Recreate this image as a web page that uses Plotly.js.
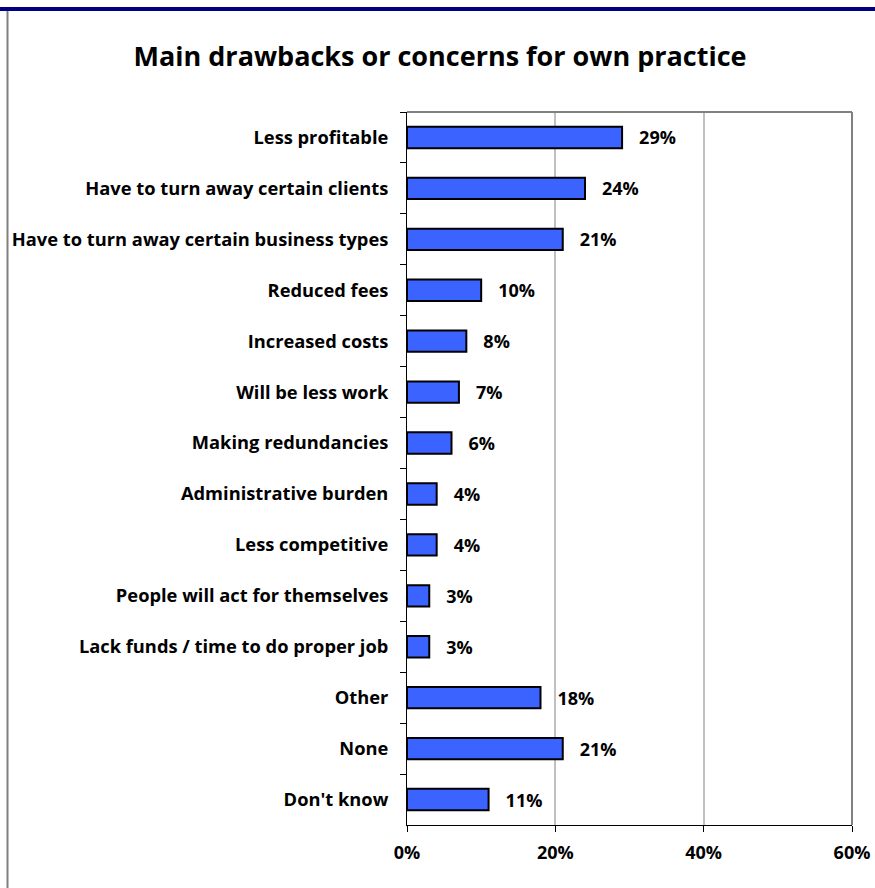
<!DOCTYPE html>
<html>
<head>
<meta charset="utf-8">
<script src="https://cdn.plot.ly/plotly-3.0.1.min.js"></script>
<style>html,body{margin:0;padding:0;background:#fff;}#chart{width:875px;height:888px;}</style>
</head>
<body>
<div id="chart"></div>
<script>
const categories = [
  "Less profitable",
  "Have to turn away certain clients",
  "Have to turn away certain business types",
  "Reduced fees",
  "Increased costs",
  "Will be less work",
  "Making redundancies",
  "Administrative burden",
  "Less competitive",
  "People will act for themselves",
  "Lack funds / time to do proper job",
  "Other",
  "None",
  "Don't know"
];
const values = [0.29, 0.24, 0.21, 0.10, 0.08, 0.07, 0.06, 0.04, 0.04, 0.03, 0.03, 0.18, 0.21, 0.11];
const xTickVals = [0, 0.2, 0.4, 0.6];
const xTickText = ["0%", "20%", "40%", "60%"];
const titleText = "Main drawbacks or concerns for own practice";

const FONT = "'Open Sans', sans-serif";
const W = 875, H = 888;
const L = 407, R = 852, T = 112, B = 825;
const px = p => (p - L) / (R - L);
const py = p => (B - p) / (B - T);

const trace = {
  type: "bar",
  orientation: "h",
  y: categories,
  x: values,
  marker: {color: "#3A63FF", line: {color: "#000000", width: 2}},
  text: values.map(v => Math.round(v * 100) + "%"),
  texttemplate: "   %{text}",
  textposition: "outside",
  constraintext: "none",
  cliponaxis: false,
  textfont: {family: FONT, size: 18, color: "#000", weight: "bold"},
  hoverinfo: "none"
};

const layout = {
  width: W, height: H,
  margin: {l: L, r: W - R, t: T, b: H - B, pad: 0},
  paper_bgcolor: "#ffffff",
  plot_bgcolor: "#ffffff",
  showlegend: false,
  bargap: 0.58,
  title: {
    text: "<b>" + titleText + "</b>",
    font: {family: FONT, size: 27, color: "#000"},
    x: 440 / W, xanchor: "center",
    y: 1 - 57 / H, yanchor: "middle", yref: "container"
  },
  xaxis: {
    range: [0, 0.6],
    tickvals: xTickVals,
    ticktext: xTickText,
    ticks: "outside", ticklen: 6, tickcolor: "#000", tickwidth: 1,
    showline: true, linecolor: "#000", linewidth: 1,
    showgrid: true, gridcolor: "#C0C0C0", gridwidth: 2,
    zeroline: false,
    tickfont: {family: FONT, size: 18, color: "#000", weight: "bold"},
    ticklabelstandoff: 5,
    fixedrange: true
  },
  yaxis: {
    type: "category",
    autorange: "reversed",
    ticks: "outside", ticklen: 6, tickcolor: "#000", tickwidth: 1,
    tickson: "boundaries",
    showline: true, linecolor: "#000", linewidth: 1,
    showgrid: false, zeroline: false,
    tickfont: {family: FONT, size: 18.3, color: "#000", weight: "bold"},
    ticklabelstandoff: 14,
    fixedrange: true
  },
  shapes: [
    {type: "line", xref: "paper", yref: "paper", x0: 0, x1: 1, y0: 1, y1: 1, line: {color: "#808080", width: 2}, layer: "above"},
    {type: "line", xref: "paper", yref: "paper", x0: 1, x1: 1, y0: 0, y1: 1, line: {color: "#808080", width: 2}, layer: "above"},
    {type: "line", xref: "paper", yref: "paper", x0: px(0), x1: px(W), y0: py(9), y1: py(9), line: {color: "#000080", width: 4}},
    {type: "line", xref: "paper", yref: "paper", x0: px(7.5), x1: px(7.5), y0: py(11), y1: py(H), line: {color: "#808080", width: 2}}
  ]
};

Plotly.newPlot("chart", [trace], layout, {displayModeBar: false, staticPlot: true});
</script>
</body>
</html>
